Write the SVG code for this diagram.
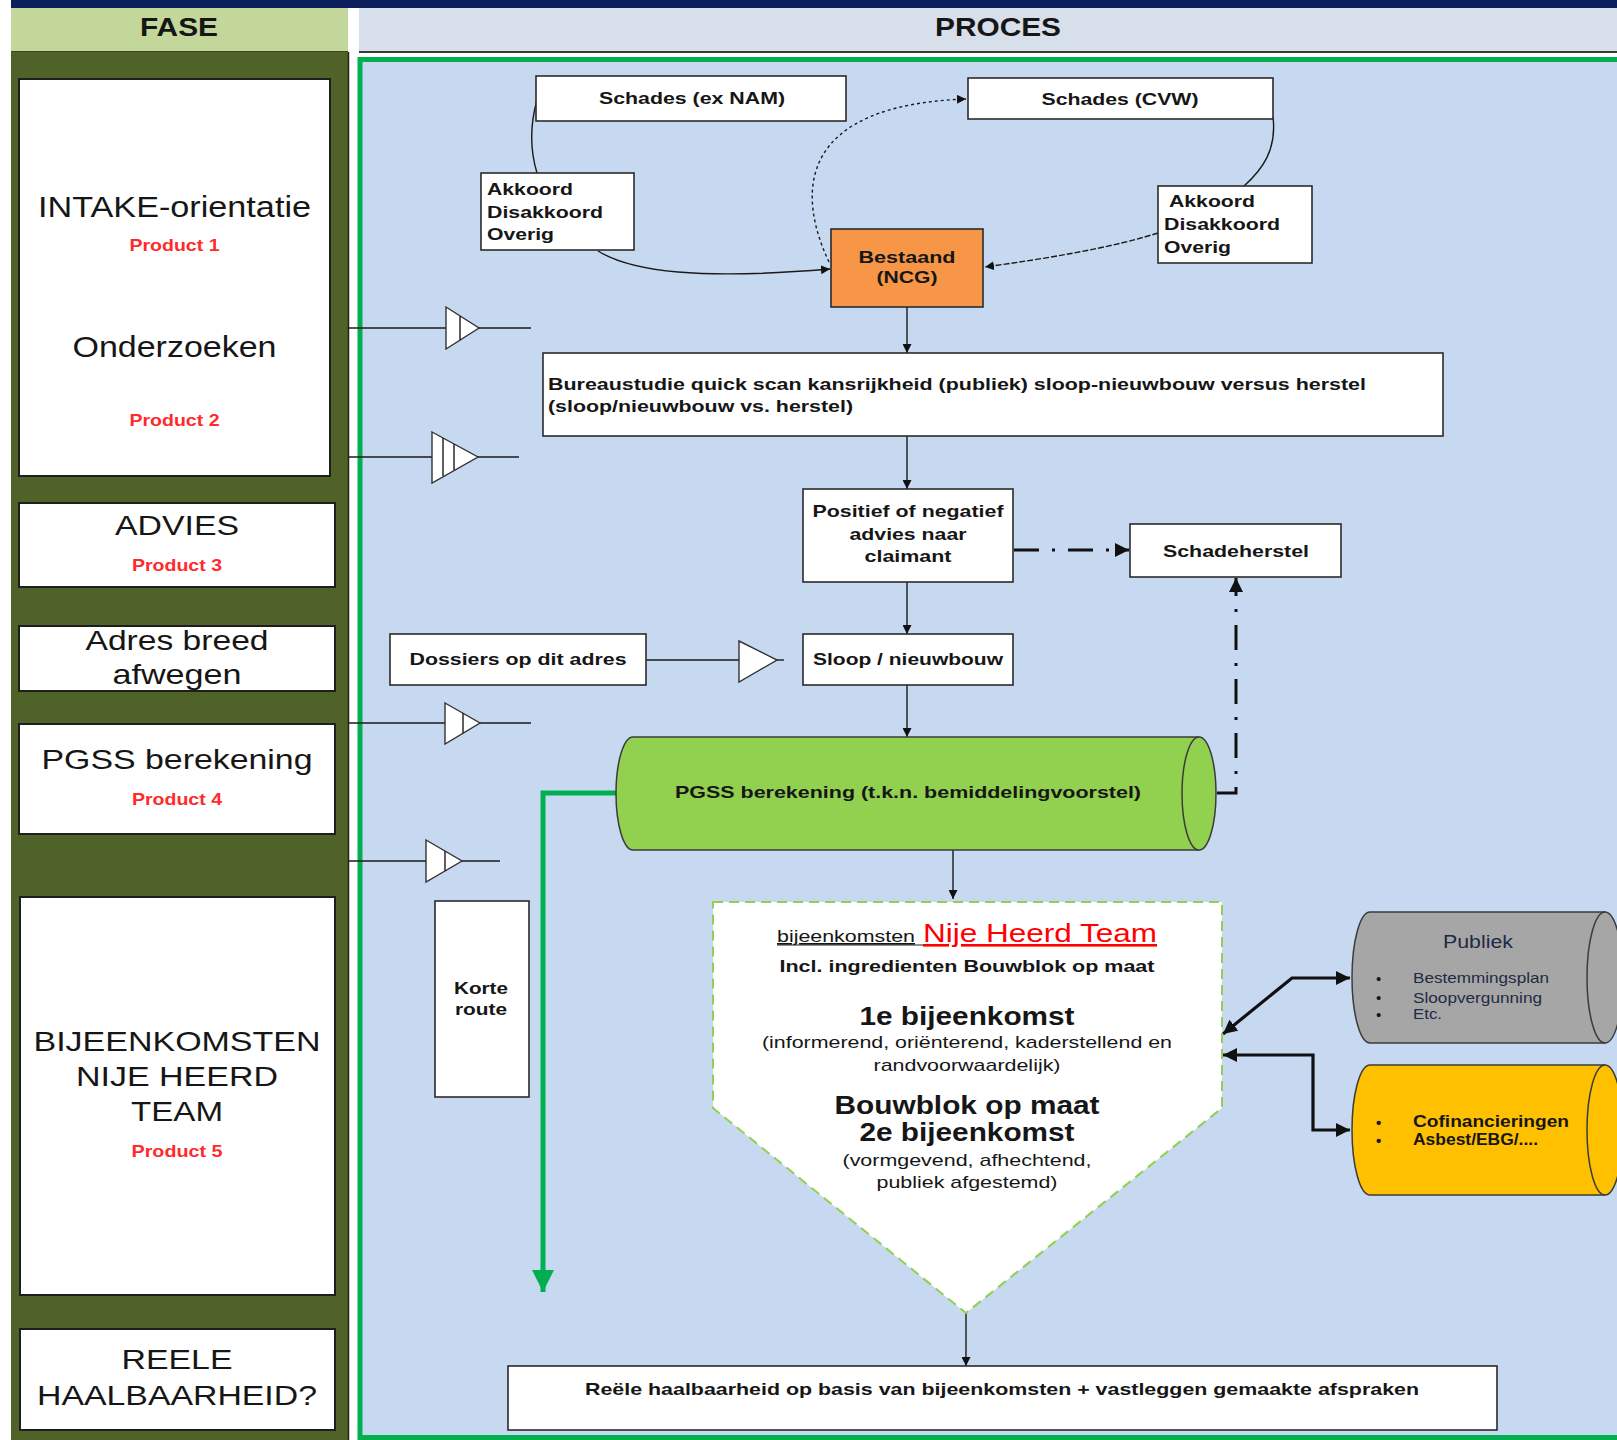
<svg xmlns="http://www.w3.org/2000/svg" width="1617" height="1440" viewBox="0 0 1617 1440">
<style>
text{font-family:"Liberation Sans",Arial,sans-serif;fill:#161616}
.b{font-weight:bold}
.phase{font-size:28px}
.prod{font-size:17px;font-weight:bold;fill:#ff2a2a}
.pb{font-size:17px;font-weight:bold}
.box{fill:#fff;stroke:#2b2b2b;stroke-width:1.6}
.lbox{fill:#fff;stroke:#1e1e1e;stroke-width:2}
.ln{fill:none;stroke:#1a1a1a;stroke-width:1.4}
.tri{fill:#fff;stroke:#333;stroke-width:1.4}
.mid{text-anchor:middle}
.ul{text-decoration:underline}
</style>
<defs>
<marker id="ah" viewBox="0 0 10 10" refX="10" refY="5" markerWidth="9" markerHeight="9" markerUnits="userSpaceOnUse" orient="auto-start-reverse"><path d="M0,0 L10,5 L0,10 z" fill="#111"/></marker>
<marker id="ahb" viewBox="0 0 10 10" refX="10" refY="5" markerWidth="14" markerHeight="14" markerUnits="userSpaceOnUse" orient="auto-start-reverse"><path d="M0,0 L10,5 L0,10 z" fill="#111"/></marker>
<marker id="ahg" viewBox="0 0 10 10" refX="10" refY="5" markerWidth="22" markerHeight="22" markerUnits="userSpaceOnUse" orient="auto"><path d="M0,0 L10,5 L0,10 z" fill="#00b050"/></marker>
</defs>

<!-- frame -->
<rect x="0" y="0" width="1617" height="1440" fill="#fff"/>
<rect x="11" y="0" width="1606" height="8" fill="#0a1f5c"/>
<rect x="11" y="8" width="337" height="44" fill="#c4d79b"/>
<rect x="359" y="8" width="1258" height="44" fill="#d6dfea"/>
<line x1="359" y1="52" x2="1617" y2="52" stroke="#3a3a3a" stroke-width="2"/>
<line x1="11" y1="52" x2="348" y2="52" stroke="#3a4a1e" stroke-width="2"/>
<rect x="11" y="52" width="337" height="1388" fill="#4f6228"/>
<line x1="348.5" y1="52" x2="348.5" y2="1440" stroke="#222" stroke-width="1.5"/>
<rect x="360" y="59.5" width="1270" height="1378" fill="#c6d9f0" stroke="#00b050" stroke-width="5"/>
<text x="179" y="36" class="b mid" font-size="25" textLength="78" lengthAdjust="spacingAndGlyphs">FASE</text>
<text x="998" y="36" class="b mid" font-size="25" textLength="126" lengthAdjust="spacingAndGlyphs">PROCES</text>

<!-- phase column -->
<g id="fase-intake">
<rect class="lbox" x="19" y="79" width="311" height="397"/>
<text x="174.5" y="217" class="mid" font-size="30" textLength="273" lengthAdjust="spacingAndGlyphs">INTAKE-orientatie</text>
<text x="174.5" y="251" class="prod mid" textLength="90" lengthAdjust="spacingAndGlyphs">Product 1</text>
<text x="174.5" y="357" class="mid" font-size="30" textLength="204" lengthAdjust="spacingAndGlyphs">Onderzoeken</text>
<text x="174.5" y="426" class="prod mid" textLength="90" lengthAdjust="spacingAndGlyphs">Product 2</text>
</g>
<g id="fase-advies">
<rect class="lbox" x="19" y="503" width="316" height="84"/>
<text x="177" y="535" class="phase mid" textLength="124" lengthAdjust="spacingAndGlyphs">ADVIES</text>
<text x="177" y="571" class="prod mid" textLength="90" lengthAdjust="spacingAndGlyphs">Product 3</text>
</g>
<g id="fase-adres">
<rect class="lbox" x="19" y="626" width="316" height="65"/>
<text x="177" y="650" class="phase mid" textLength="183" lengthAdjust="spacingAndGlyphs">Adres breed</text>
<text x="177" y="684" class="phase mid" textLength="129" lengthAdjust="spacingAndGlyphs">afwegen</text>
</g>
<g id="fase-pgss">
<rect class="lbox" x="19" y="724" width="316" height="110"/>
<text x="177" y="769" class="phase mid" textLength="271" lengthAdjust="spacingAndGlyphs">PGSS berekening</text>
<text x="177" y="805" class="prod mid" textLength="90" lengthAdjust="spacingAndGlyphs">Product 4</text>
</g>
<g id="fase-bijeenkomsten">
<rect class="lbox" x="20" y="897" width="315" height="398"/>
<text x="177" y="1051" class="phase mid" textLength="287" lengthAdjust="spacingAndGlyphs">BIJEENKOMSTEN</text>
<text x="177" y="1086" class="phase mid" textLength="202" lengthAdjust="spacingAndGlyphs">NIJE HEERD</text>
<text x="177" y="1121" class="phase mid" textLength="92" lengthAdjust="spacingAndGlyphs">TEAM</text>
<text x="177" y="1157" class="prod mid" textLength="91" lengthAdjust="spacingAndGlyphs">Product 5</text>
</g>
<g id="fase-reele">
<rect class="lbox" x="20" y="1329" width="315" height="101"/>
<text x="177" y="1369" class="phase mid" textLength="111" lengthAdjust="spacingAndGlyphs">REELE</text>
<text x="177" y="1405" class="phase mid" textLength="280" lengthAdjust="spacingAndGlyphs">HAALBAARHEID?</text>
</g>

<!-- phase separators -->
<g id="separators">
<line class="ln" x1="349" y1="328" x2="531" y2="328"/>
<polygon class="tri" points="446,307 479,328 446,349"/>
<line class="ln" x1="460" y1="316" x2="460" y2="340"/>
<line class="ln" x1="349" y1="457" x2="519" y2="457"/>
<polygon class="tri" points="432,432 478,457 432,483"/>
<line class="ln" x1="443" y1="438" x2="443" y2="476"/>
<line class="ln" x1="454" y1="444" x2="454" y2="470"/>
<line class="ln" x1="349" y1="723" x2="531" y2="723"/>
<polygon class="tri" points="445,703 480,723 445,744"/>
<line class="ln" x1="463" y1="713" x2="463" y2="733"/>
<line class="ln" x1="349" y1="861" x2="500" y2="861"/>
<polygon class="tri" points="426,840 462,861 426,882"/>
<line class="ln" x1="445" y1="851" x2="445" y2="871"/>
</g>

<!-- connectors -->
<g id="connectors">
<path class="ln" d="M537,100 C530,125 530,150 537,173"/>
<path class="ln" d="M598,251 C632,272 700,280 830,269" marker-end="url(#ah)"/>
<path class="ln" d="M829,262 C795,190 800,105 966,99" stroke-dasharray="3,3" marker-end="url(#ah)"/>
<path class="ln" d="M1273,117 C1277,150 1262,170 1244,186"/>
<path class="ln" d="M1158,233 C1110,248 1050,258 985,267" stroke-dasharray="6,2" marker-end="url(#ah)"/>
<line class="ln" x1="907" y1="307" x2="907" y2="353" marker-end="url(#ah)"/>
<line class="ln" x1="907" y1="436" x2="907" y2="489" marker-end="url(#ah)"/>
<line class="ln" x1="907" y1="582" x2="907" y2="634" marker-end="url(#ah)"/>
<line class="ln" x1="907" y1="685" x2="907" y2="737" marker-end="url(#ah)"/>
<line class="ln" x1="953" y1="837" x2="953" y2="899" marker-end="url(#ah)"/>
<line class="ln" x1="966" y1="1313" x2="966" y2="1366" marker-end="url(#ah)"/>
<line x1="1014" y1="550" x2="1129" y2="550" stroke="#111" stroke-width="3" stroke-dasharray="25,13,3,13" marker-end="url(#ahb)"/>
<path d="M1217,793 L1236,793 L1236,578" fill="none" stroke="#111" stroke-width="3" stroke-dasharray="25,13,3,13" marker-end="url(#ahb)"/>
<line class="ln" x1="646" y1="660" x2="739" y2="660"/>
<polygon class="tri" points="739,641 777,660 739,682"/>
<line class="ln" x1="777" y1="660" x2="784" y2="660"/>
<path d="M617,793 L543,793 L543,1292" fill="none" stroke="#00b050" stroke-width="5" marker-end="url(#ahg)"/>
<path d="M1223,1034 L1292,978 L1350,978" fill="none" stroke="#111" stroke-width="3.2" marker-start="url(#ahb)" marker-end="url(#ahb)"/>
<path d="M1223,1055 L1313,1055 L1313,1130 L1350,1130" fill="none" stroke="#111" stroke-width="3.2" marker-start="url(#ahb)" marker-end="url(#ahb)"/>
</g>

<!-- process nodes -->
<g id="schades-nam">
<rect class="box" x="536" y="76" width="310" height="45"/>
<text x="692" y="104" class="pb mid" textLength="186" lengthAdjust="spacingAndGlyphs">Schades (ex NAM)</text>
</g>
<g id="schades-cvw">
<rect class="box" x="968" y="78" width="305" height="41"/>
<text x="1120" y="105" class="pb mid" textLength="157" lengthAdjust="spacingAndGlyphs">Schades (CVW)</text>
</g>
<g id="akkoord-links">
<rect class="box" x="481" y="173" width="153" height="77"/>
<text x="487" y="195" class="pb" textLength="86" lengthAdjust="spacingAndGlyphs">Akkoord</text>
<text x="487" y="218" class="pb" textLength="116" lengthAdjust="spacingAndGlyphs">Disakkoord</text>
<text x="487" y="240" class="pb" textLength="67" lengthAdjust="spacingAndGlyphs">Overig</text>
</g>
<g id="akkoord-rechts">
<rect class="box" x="1158" y="186" width="154" height="77"/>
<text x="1169" y="207" class="pb" textLength="86" lengthAdjust="spacingAndGlyphs">Akkoord</text>
<text x="1164" y="230" class="pb" textLength="116" lengthAdjust="spacingAndGlyphs">Disakkoord</text>
<text x="1164" y="253" class="pb" textLength="67" lengthAdjust="spacingAndGlyphs">Overig</text>
</g>
<g id="bestaand">
<rect x="831" y="229" width="152" height="78" fill="#f79646" stroke="#2b2b2b" stroke-width="1.6"/>
<text x="907" y="263" class="pb mid" textLength="97" lengthAdjust="spacingAndGlyphs">Bestaand</text>
<text x="907" y="283" class="pb mid" textLength="61" lengthAdjust="spacingAndGlyphs">(NCG)</text>
</g>
<g id="bureaustudie">
<rect class="box" x="543" y="353" width="900" height="83"/>
<text x="548" y="390" class="pb" textLength="818" lengthAdjust="spacingAndGlyphs">Bureaustudie quick scan kansrijkheid (publiek) sloop-nieuwbouw versus herstel</text>
<text x="548" y="412" class="pb" textLength="305" lengthAdjust="spacingAndGlyphs">(sloop/nieuwbouw vs. herstel)</text>
</g>
<g id="positief">
<rect class="box" x="803" y="489" width="210" height="93"/>
<text x="908" y="517" class="pb mid" textLength="191" lengthAdjust="spacingAndGlyphs">Positief of negatief</text>
<text x="908" y="540" class="pb mid" textLength="117" lengthAdjust="spacingAndGlyphs">advies naar</text>
<text x="908" y="562" class="pb mid" textLength="87" lengthAdjust="spacingAndGlyphs">claimant</text>
</g>
<g id="schadeherstel">
<rect class="box" x="1130" y="524" width="211" height="53"/>
<text x="1236" y="557" class="pb mid" textLength="146" lengthAdjust="spacingAndGlyphs">Schadeherstel</text>
</g>
<g id="dossiers">
<rect class="box" x="390" y="634" width="256" height="51"/>
<text x="518" y="665" class="pb mid" textLength="217" lengthAdjust="spacingAndGlyphs">Dossiers op dit adres</text>
</g>
<g id="sloop">
<rect class="box" x="803" y="634" width="210" height="51"/>
<text x="908" y="665" class="pb mid" textLength="190" lengthAdjust="spacingAndGlyphs">Sloop / nieuwbouw</text>
</g>
<g id="pgss">
<path d="M633,737 L1199,737 A17,56.5 0 0 1 1199,850 L633,850 A17,56.5 0 0 1 633,737 Z" fill="#92d050" stroke="#3b3b3b" stroke-width="1.5"/>
<path d="M1199,737 A17,56.5 0 0 0 1199,850" fill="none" stroke="#3b3b3b" stroke-width="1.5"/>
<text x="908" y="798" class="pb mid" textLength="466" lengthAdjust="spacingAndGlyphs">PGSS berekening (t.k.n. bemiddelingvoorstel)</text>
</g>
<g id="korte-route">
<rect class="box" x="435" y="901" width="94" height="196"/>
<text x="481" y="994" class="pb mid" textLength="54" lengthAdjust="spacingAndGlyphs">Korte</text>
<text x="481" y="1015" class="pb mid" textLength="52" lengthAdjust="spacingAndGlyphs">route</text>
</g>
<g id="bijeenkomsten">
<polygon points="713,902 1222,902 1222,1108 966,1313 713,1108" fill="#fff" stroke="#92d050" stroke-width="2" stroke-dasharray="10,6"/>
<text x="777" y="942" class="ul" font-size="17" textLength="138" lengthAdjust="spacingAndGlyphs">bijeenkomsten</text>
<line x1="777" y1="945" x2="923" y2="945" stroke="#222" stroke-width="1"/>
<text x="923" y="942" class="ul" font-size="26" style="fill:#ff0000" textLength="234" lengthAdjust="spacingAndGlyphs">Nije Heerd Team</text>
<text x="967" y="972" class="pb mid" textLength="375" lengthAdjust="spacingAndGlyphs">Incl. ingredienten Bouwblok op maat</text>
<text x="967" y="1025" class="b mid" font-size="25" textLength="215" lengthAdjust="spacingAndGlyphs">1e bijeenkomst</text>
<text x="967" y="1048" class="mid" font-size="17" textLength="410" lengthAdjust="spacingAndGlyphs">(informerend, oriënterend, kaderstellend en</text>
<text x="967" y="1071" class="mid" font-size="17" textLength="187" lengthAdjust="spacingAndGlyphs">randvoorwaardelijk)</text>
<text x="967" y="1114" class="b mid" font-size="25" textLength="265" lengthAdjust="spacingAndGlyphs">Bouwblok op maat</text>
<text x="967" y="1141" class="b mid" font-size="25" textLength="215" lengthAdjust="spacingAndGlyphs">2e bijeenkomst</text>
<text x="967" y="1166" class="mid" font-size="17" textLength="249" lengthAdjust="spacingAndGlyphs">(vormgevend, afhechtend,</text>
<text x="967" y="1188" class="mid" font-size="17" textLength="181" lengthAdjust="spacingAndGlyphs">publiek afgestemd)</text>
</g>
<g id="publiek">
<path d="M1370,912 L1605,912 A18,65.5 0 0 1 1605,1043 L1370,1043 A18,65.5 0 0 1 1370,912 Z" fill="#a6a6a6" stroke="#3b3b3b" stroke-width="1.5"/>
<path d="M1605,912 A18,65.5 0 0 0 1605,1043" fill="none" stroke="#3b3b3b" stroke-width="1.5"/>
<text x="1478" y="948" class="mid" font-size="18" style="fill:#1f2a44" textLength="70" lengthAdjust="spacingAndGlyphs">Publiek</text>
<text x="1376" y="984" font-size="15">•</text>
<text x="1376" y="1003" font-size="15">•</text>
<text x="1376" y="1020" font-size="15">•</text>
<text x="1413" y="983" font-size="15" style="fill:#1f2a44" textLength="136" lengthAdjust="spacingAndGlyphs">Bestemmingsplan</text>
<text x="1413" y="1003" font-size="15" style="fill:#1f2a44" textLength="129" lengthAdjust="spacingAndGlyphs">Sloopvergunning</text>
<text x="1413" y="1019" font-size="15" style="fill:#1f2a44" textLength="29" lengthAdjust="spacingAndGlyphs">Etc.</text>
</g>
<g id="cofinancieringen">
<path d="M1370,1065 L1605,1065 A18,65 0 0 1 1605,1195 L1370,1195 A18,65 0 0 1 1370,1065 Z" fill="#ffc000" stroke="#3b3b3b" stroke-width="1.5"/>
<path d="M1605,1065 A18,65 0 0 0 1605,1195" fill="none" stroke="#3b3b3b" stroke-width="1.5"/>
<text x="1376" y="1128" font-size="15" class="b">•</text>
<text x="1376" y="1146" font-size="15" class="b">•</text>
<text x="1413" y="1127" class="b" font-size="16" textLength="156" lengthAdjust="spacingAndGlyphs">Cofinancieringen</text>
<text x="1413" y="1145" class="b" font-size="16" textLength="125" lengthAdjust="spacingAndGlyphs">Asbest/EBG/....</text>
</g>
<g id="reele">
<rect class="box" x="508" y="1366" width="989" height="64"/>
<text x="1002" y="1395" class="pb mid" textLength="834" lengthAdjust="spacingAndGlyphs">Reële haalbaarheid op basis van bijeenkomsten + vastleggen gemaakte afspraken</text>
</g>
</svg>
